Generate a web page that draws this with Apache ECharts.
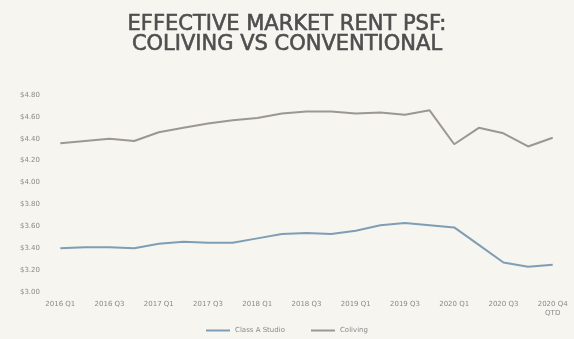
<!DOCTYPE html>
<html>
<head>
<meta charset="utf-8">
<script src="https://cdn.jsdelivr.net/npm/echarts@6/dist/echarts.min.js"></script>
<style>
  html, body { margin: 0; padding: 0; background: #f6f5f0; }
  #chart { width: 574px; height: 339px; }
</style>
</head>
<body>
<div id="chart"></div>
<script>
var quarters = ['2016 Q1', '2016 Q2', '2016 Q3', '2016 Q4', '2017 Q1', '2017 Q2', '2017 Q3', '2017 Q4',
  '2018 Q1', '2018 Q2', '2018 Q3', '2018 Q4', '2019 Q1', '2019 Q2', '2019 Q3', '2019 Q4',
  '2020 Q1', '2020 Q2', '2020 Q3', '2020 Q4', '2020 Q4\nQTD'];
var classAStudio = [3.40, 3.41, 3.41, 3.40, 3.44, 3.46, 3.45, 3.45, 3.49, 3.53, 3.54, 3.53,
  3.56, 3.61, 3.63, 3.61, 3.59, 3.43, 3.27, 3.23, 3.25];
var coliving = [4.36, 4.38, 4.40, 4.38, 4.46, 4.50, 4.54, 4.57, 4.59, 4.63, 4.65, 4.65,
  4.63, 4.64, 4.62, 4.66, 4.35, 4.50, 4.45, 4.33, 4.41];
var yTicks = [3.0, 3.2, 3.4, 3.6, 3.8, 4.0, 4.2, 4.4, 4.6, 4.8];

var chart = echarts.init(document.getElementById('chart'));
var option = {
    backgroundColor: '#f6f5f0',
    title: {
        text: 'EFFECTIVE MARKET RENT PSF:\nCOLIVING VS CONVENTIONAL',
        left: 'center',
        top: 10,
        textStyle: {
            fontFamily: 'DejaVu Sans',
            fontSize: 21,
            fontWeight: 'normal',
            color: '#4e4e4e',
            textBorderColor: '#4e4e4e',
            textBorderWidth: 0.6,
            lineHeight: 20
        }
    },
    legend: {
        bottom: 0,
        left: 'center',
        itemWidth: 24,
        itemHeight: 2,
        itemGap: 26,
        icon: 'rect',
        textStyle: { fontSize: 7, color: '#8a8a8a', fontFamily: 'DejaVu Sans' },
        data: ['Class A Studio', 'Coliving']
    },
    grid: { left: 48, right: 9, top: 95, bottom: 47 },
    xAxis: {
        type: 'category',
        data: quarters,
        boundaryGap: true,
        axisLine: { show: false },
        axisTick: { show: false },
        axisLabel: {
            interval: 1,
            fontSize: 7,
            color: '#8a8a8a',
            margin: 8,
            lineHeight: 9,
            fontFamily: 'DejaVu Sans'
        }
    },
    yAxis: {
        type: 'value',
        min: yTicks[0],
        max: yTicks[yTicks.length - 1],
        interval: 0.2,
        splitLine: { show: false },
        axisLine: { show: false },
        axisTick: { show: false },
        axisLabel: {
            fontSize: 7,
            color: '#8a8a8a',
            margin: 8,
            fontFamily: 'DejaVu Sans',
            formatter: function (v) { return '$' + v.toFixed(2); }
        }
    },
    series: [
        {
            name: 'Class A Studio',
            type: 'line',
            data: classAStudio,
            symbol: 'none',
            color: '#7f9db5',
            lineStyle: { width: 2, color: '#7f9db5' }
        },
        {
            name: 'Coliving',
            type: 'line',
            data: coliving,
            symbol: 'none',
            color: '#9b9892',
            lineStyle: { width: 2, color: '#9b9892' }
        }
    ]
};
chart.setOption(option);
</script>
</body>
</html>
